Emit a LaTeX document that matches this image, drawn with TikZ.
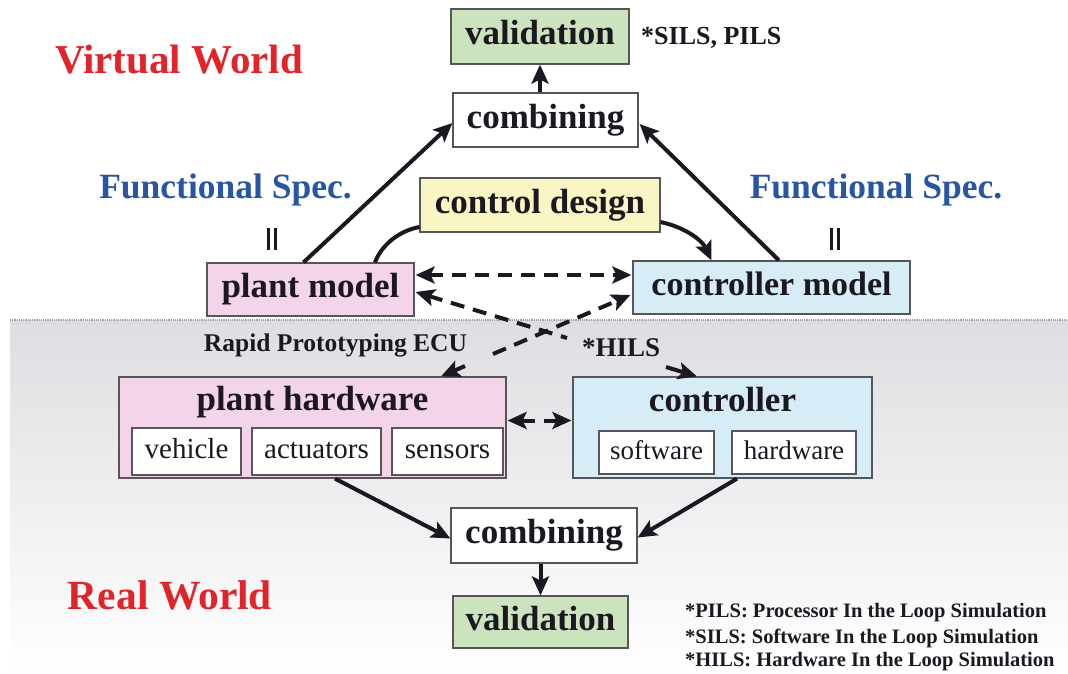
\documentclass[tikz,border=0pt]{standalone}
\usepackage{fontspec}
\setmainfont{Liberation Serif}
\usetikzlibrary{arrows.meta,calc}
\definecolor{boxline}{RGB}{85,85,90}
\definecolor{ink}{RGB}{28,24,34}
\definecolor{valgreen}{RGB}{204,228,190}
\definecolor{pinkfill}{RGB}{243,212,232}
\definecolor{yellowfill}{RGB}{250,246,196}
\definecolor{bluefill}{RGB}{214,237,248}
\definecolor{worldred}{RGB}{224,36,42}
\definecolor{specblue}{RGB}{40,86,162}
\definecolor{bgGray}{RGB}{222,222,226}
\begin{document}
\begin{tikzpicture}[x=1pt,y=-1pt,
  box/.style={draw=boxline, line width=1.2pt, inner sep=0pt, align=center, text=ink},
  bigtxt/.style={font=\fontsize{35}{40}\selectfont\bfseries, text height=24pt, text depth=8pt},
  subtxt/.style={font=\fontsize{29}{34}\selectfont, text height=20pt, text depth=6pt},
  subtxtb/.style={font=\fontsize{27}{32}\selectfont, text height=19pt, text depth=6pt},
  lbl/.style={inner sep=0pt, text=ink},
  tip/.style={-{Stealth[length=19pt,width=17pt,inset=4pt]}},
  arr/.style={line width=4pt, draw=ink, tip},
  plainline/.style={line width=4pt, draw=ink},
  darr/.style={line width=4pt, draw=ink, dash pattern=on 14pt off 9pt, tip},
  ddarr/.style={line width=4pt, draw=ink, dash pattern=on 14pt off 9pt, {Stealth[length=19pt,width=17pt,inset=4pt]}-{Stealth[length=19pt,width=17pt,inset=4pt]}},
  bars/.style={line width=3pt, draw=ink}
]
\useasboundingbox (0,0) rectangle (1068,673);
\fill[white] (0,0) rectangle (1068,673);
% real world background
\shade[top color=bgGray, middle color=bgGray!85, bottom color=white] (10,320) rectangle (1068,673);
\draw[gray!75, line width=1.4pt, dash pattern=on 1.2pt off 1pt] (10,320) -- (1068,320);

% virtual world nodes
\node[box, bigtxt, fill=valgreen, minimum width=178pt, minimum height=55pt] (valTop) at (540,36.5) {validation};
\node[box, bigtxt, fill=white, minimum width=185pt, minimum height=54pt] (combTop) at (545.5,120) {combining};
\node[box, bigtxt, fill=yellowfill, minimum width=240pt, minimum height=54pt] (ctrlDesign) at (540,205) {control design};
\node[box, bigtxt, fill=pinkfill, minimum width=207pt, minimum height=53pt] (plantModel) at (310.5,289.5) {plant model};
\node[box, bigtxt, font=\fontsize{34}{40}\selectfont\bfseries, fill=bluefill, minimum width=277pt, minimum height=53pt] (ctrlModel) at (771.5,287.5) {controller model};

% labels
\node[lbl, text=worldred, font=\fontsize{41}{46}\selectfont\bfseries] (virt) at (179,60) {Virtual World};
\node[lbl, text=worldred, font=\fontsize{41.5}{46}\selectfont\bfseries] (real) at (170,595) {Real World};
\node[lbl, text=specblue, font=\fontsize{35.5}{40}\selectfont\bfseries] (specL) at (225.5,190) {Functional Spec.};
\node[lbl, text=specblue, font=\fontsize{35.5}{40}\selectfont\bfseries] (specR) at (876,190) {Functional Spec.};
\draw[bars] (268.5,228) -- (268.5,250) (275.5,228) -- (275.5,250);
\draw[bars] (831.5,228) -- (831.5,250) (838.5,228) -- (838.5,250);
\node[lbl, anchor=west, font=\fontsize{26}{30}\selectfont\bfseries] (sils) at (641,38) {*SILS, PILS};

% real world nodes
\node[box, fill=pinkfill, minimum width=387pt, minimum height=101pt] (plantHW) at (312.5,427.5) {};
\node[lbl, bigtxt] (plantHWtitle) at (312.5,402) {plant hardware};
\node[box, subtxt, fill=white, minimum width=109pt, minimum height=47pt] (vehicle) at (186.5,451.5) {vehicle};
\node[box, subtxt, fill=white, minimum width=129pt, minimum height=47pt] (actuators) at (316.5,451.5) {actuators};
\node[box, subtxt, fill=white, minimum width=111pt, minimum height=47pt] (sensors) at (447.5,451.5) {sensors};

\node[box, fill=bluefill, minimum width=299pt, minimum height=101pt] (controller) at (722.5,427.5) {};
\node[lbl, bigtxt] (controllerTitle) at (722.5,403) {controller};
\node[box, subtxtb, fill=white, minimum width=115pt, minimum height=43pt] (software) at (656.5,452.5) {software};
\node[box, subtxtb, fill=white, minimum width=124pt, minimum height=43pt] (hardware) at (794,452.5) {hardware};

\node[box, bigtxt, fill=white, minimum width=186pt, minimum height=55pt] (combBot) at (544,535.5) {combining};
\node[box, bigtxt, fill=valgreen, minimum width=175pt, minimum height=52pt] (valBot) at (540.5,622) {validation};

\node[lbl, font=\fontsize{25.5}{30}\selectfont\bfseries] (ecu) at (335.5,345) {Rapid Prototyping ECU};
\node[lbl, anchor=west, font=\fontsize{27}{30}\selectfont\bfseries] (hils) at (582,348) {*HILS};

\node[lbl, anchor=west, font=\fontsize{20.5}{24}\selectfont\bfseries] (fn1) at (685,613) {*PILS: Processor In the Loop Simulation};
\node[lbl, anchor=west, font=\fontsize{20.5}{24}\selectfont\bfseries] (fn2) at (685,638) {*SILS: Software In the Loop Simulation};
\node[lbl, anchor=west, font=\fontsize{20.5}{24}\selectfont\bfseries] (fn3) at (685,662) {*HILS: Hardware In the Loop Simulation};

% connectors, virtual world
\draw[arr] (combTop.north -| valTop.south) -- (valTop.south);
\draw[arr] ($(plantModel.north)+(-7,0)$) -- ($(combTop.west)+(0,3)$);
\draw[arr] ($(ctrlModel.north)+(7.5,0)$) -- ($(combTop.east)+(1,4)$);
\draw[plainline] ($(plantModel.north)+(64.5,0)$) .. controls (381,246) and (398,231) .. ($(ctrlDesign.west)+(0,22)$);
\draw[arr] ($(ctrlDesign.east)+(0,17)$) .. controls (688,228) and (703,242) .. ($(ctrlModel.north)+(-60,0)$);
\draw[ddarr] ($(plantModel.east)+(1,-14.5)$) -- ($(ctrlModel.west)+(-1,-12.5)$);

% HILS path
\coordinate (hilsA) at (567,338);
\coordinate (hilsB) at (666,367);
\draw[line width=4pt, draw=ink, dash pattern=on 14pt off 9pt, {Stealth[length=19pt,width=17pt,inset=4pt]}-] ($(plantModel.east)+(1,2.5)$) -- (hilsA);
\draw[arr] (hilsB) -- ($(controller.north)+(-25.5,0)$);

% Rapid prototyping path
\coordinate (ecuA) at (493,354);
\coordinate (ecuB) at (465,366);
\draw[darr] (ecuA) -- ($(ctrlModel.west)+(-2,7.5)$);
\draw[arr] (ecuB) -- ($(plantHW.north)+(128.5,0)$);

% real world connectors
\draw[ddarr] ($(plantHW.east)+(1,-7)$) -- ($(controller.west)+(-1,-7)$);
\draw[arr] ($(plantHW.south)+(22.5,0)$) -- ($(combBot.west)+(0,3)$);
\draw[arr] ($(controller.south)+(14.5,0)$) -- ($(combBot.east)+(0,2)$);
\draw[arr] (combBot.south -| valBot.north) -- (valBot.north);
\end{tikzpicture}
\end{document}
